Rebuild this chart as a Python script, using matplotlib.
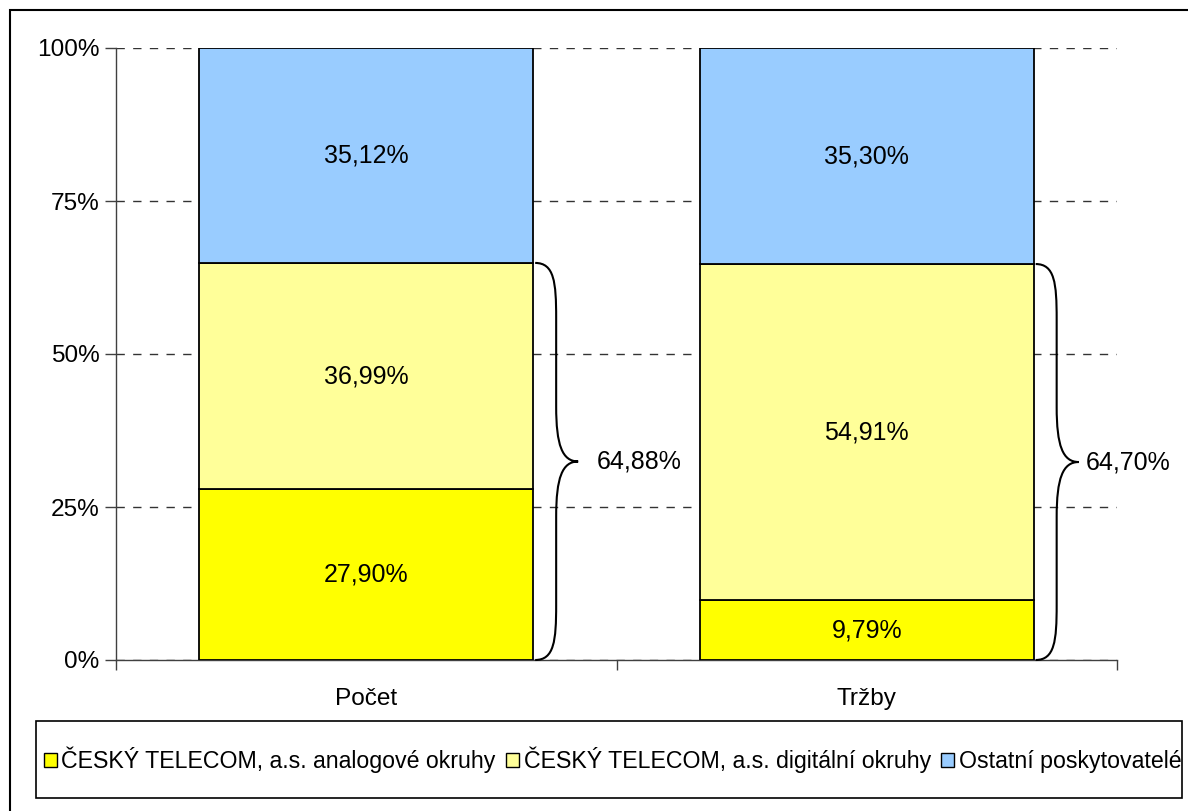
import matplotlib
matplotlib.use("Agg")
import matplotlib.pyplot as plt
from matplotlib.patches import Rectangle, PathPatch, Patch
from matplotlib.path import Path

plt.rcParams['font.family'] = ['Liberation Sans', 'DejaVu Sans']

categories = ["Počet", "Tržby"]
analog = [27.90, 9.79]
digital = [36.99, 54.91]
other = [35.12, 35.30]
brace_totals = [64.88, 64.70]
series_names = ["ČESKÝ TELECOM, a.s. analogové okruhy",
                "ČESKÝ TELECOM, a.s. digitální okruhy",
                "Ostatní poskytovatelé"]
colors = ["#FFFF00", "#FFFF99", "#99CCFF"]
yticks = [0, 25, 50, 75, 100]

W, H = 1188, 811
fig = plt.figure(figsize=(W / 100, H / 100), dpi=100)
FS = 18
TFS = 17.6
LFS = 16.7

# outer border
fig.patches.append(Rectangle((10 / W, -0.05), 1.2, 1 - 10 / H + 0.05,
                             transform=fig.transFigure, fill=False,
                             edgecolor="black", linewidth=1.5))

ax = fig.add_axes([116 / W, 1 - 660 / H, (1117 - 116) / W, (660 - 48) / H])
ax.set_xlim(-0.5, 1.5)
ax.set_ylim(0, 100)

x = list(range(len(categories)))
bw = 0.667
series = [analog, digital, other]
bottoms = [0.0] * len(categories)
for vals, col in zip(series, colors):
    ax.bar(x, vals, bw, bottom=bottoms, color=col, edgecolor="black",
           linewidth=1.3, zorder=3)
    for xi, v, b in zip(x, vals, bottoms):
        ax.text(xi, b + v / 2, f"{v:.2f}%".replace(".", ","), ha="center",
                va="center", fontsize=FS, zorder=4)
    bottoms = [b + v for b, v in zip(bottoms, vals)]

# braces
px = 1.0 / ((1117 - 116) / 2)  # data units per pixel in x
py = 100.0 / (660 - 48)
label_off = [19, 7]
for xi, tot, loff in zip(x, brace_totals, label_off):
    x0 = xi + bw / 2 + 2 * px
    xm = x0 + 21 * px
    xt = x0 + 43 * px
    top, bot = tot, 0.0
    mid = (top + bot) / 2
    d = 55 * py
    verts = [(x0, top), (xm - 2 * px, top), (xm, top - 0.35 * d), (xm, top - d),
             (xm, mid + d),
             (xm, mid + 0.3 * d), (xm + 6 * px, mid), (xt, mid),
             (xm + 6 * px, mid), (xm, mid - 0.3 * d), (xm, mid - d),
             (xm, bot + d),
             (xm, bot + 0.35 * d), (xm - 2 * px, bot), (x0, bot)]
    codes = [Path.MOVETO, Path.CURVE4, Path.CURVE4, Path.CURVE4,
             Path.LINETO,
             Path.CURVE4, Path.CURVE4, Path.CURVE4,
             Path.CURVE4, Path.CURVE4, Path.CURVE4,
             Path.LINETO,
             Path.CURVE4, Path.CURVE4, Path.CURVE4]
    ax.add_patch(PathPatch(Path(verts, codes), fill=False, edgecolor="black",
                           linewidth=1.5, zorder=5, clip_on=False))
    ax.text(xt + loff * px, mid, f"{tot:.2f}%".replace(".", ","), ha="left",
            va="center", fontsize=FS, zorder=5, clip_on=False)

# axes styling
for s in ["top", "right"]:
    ax.spines[s].set_visible(False)
for s in ["left", "bottom"]:
    ax.spines[s].set_color("#404040")
    ax.spines[s].set_linewidth(1.0)

ax.set_yticks(yticks)
ax.set_yticklabels([f"{t}%" for t in yticks], fontsize=TFS)
ax.tick_params(axis="y", length=8, width=1, color="#404040", pad=4)
ax.yaxis.grid(True, linestyle=(0, (6, 6)), color="#333333", linewidth=1.0, zorder=0)
ax.set_axisbelow(True)

ax.set_xticks(x)
ax.set_xticklabels(categories, fontsize=TFS)
ax.set_xticks([-0.5, 0.5, 1.5], minor=True)
ax.tick_params(axis="x", which="major", length=0, pad=20)
ax.tick_params(axis="x", which="minor", length=7, width=1, color="#404040")

# legend
fig.patches.append(Rectangle((36 / W, 1 - 798 / H), (1182 - 36) / W, (798 - 721) / H,
                             transform=fig.transFigure, fill=False,
                             edgecolor="black", linewidth=1.2))
handles = [Patch(facecolor=c, edgecolor="black", linewidth=1.0) for c in colors]
fig.legend(handles, series_names, loc="center left",
           bbox_to_anchor=(44 / W, 1 - 759.5 / H), ncol=3, frameon=False,
           fontsize=LFS, handlelength=0.55, handleheight=0.55, handletextpad=0.2,
           columnspacing=0.45, borderpad=0, borderaxespad=0)

fig.savefig("out.png", dpi=100)
